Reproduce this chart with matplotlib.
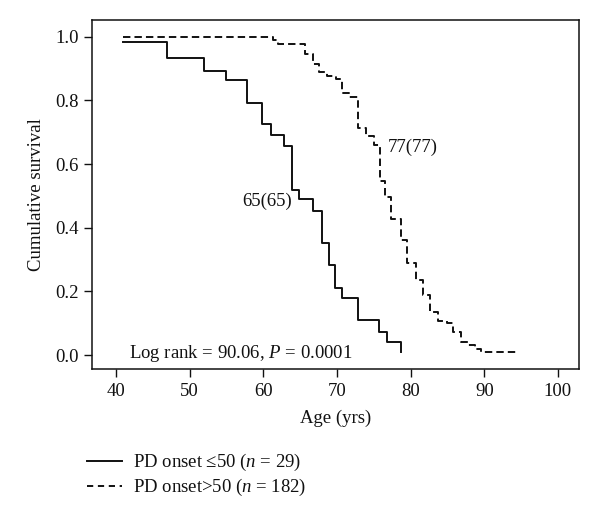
import matplotlib
matplotlib.use("Agg")
import matplotlib.pyplot as plt
from matplotlib.lines import Line2D

plt.rcParams['font.family'] = ['Liberation Serif', 'DejaVu Serif']
plt.rcParams['mathtext.fontset'] = 'custom'
plt.rcParams['mathtext.rm'] = 'Liberation Serif'
plt.rcParams['mathtext.it'] = 'Liberation Serif:italic'

# Onset <= 50 (solid): step ages and survival after each step
early_age = [41.0, 47.0, 51.9, 54.9, 57.8, 59.9, 61.0, 62.8, 63.9, 64.9, 66.7,
             68.0, 68.9, 69.8, 70.7, 72.8, 75.7, 76.8, 78.7]
early_surv = [0.983, 0.932, 0.893, 0.863, 0.791, 0.726, 0.691, 0.657, 0.520, 0.490, 0.452,
              0.351, 0.282, 0.212, 0.180, 0.110, 0.071, 0.040, 0.010]

# Onset > 50 (dashed)
late_age = [41.0, 61.3, 62.0, 65.7, 66.8, 67.6, 68.7, 69.9, 70.7, 71.7, 72.8,
            74.0, 75.1, 75.8, 76.5, 77.4, 78.7, 79.5, 80.8, 81.7, 82.6, 83.7,
            85.0, 85.8, 86.9, 87.8, 88.7, 89.6, 94.3]
late_surv = [1.000, 0.989, 0.977, 0.945, 0.914, 0.888, 0.877, 0.868, 0.823, 0.810, 0.713,
             0.687, 0.660, 0.547, 0.498, 0.427, 0.360, 0.290, 0.236, 0.190, 0.136, 0.108,
             0.100, 0.073, 0.042, 0.031, 0.018, 0.010, 0.010]

x_ticks = [40, 50, 60, 70, 80, 90, 100]
y_ticks = [0.0, 0.2, 0.4, 0.6, 0.8, 1.0]

legend_labels = [r'PD onset ≤50 ($n$ = 29)', r'PD onset>50 ($n$ = 182)']

fig = plt.figure(figsize=(6.0, 5.19), dpi=100)
ax = fig.add_axes([92.3/600, 1-369/519, (579.3-92.3)/600, (369-20)/519])

col = '#111111'
fs = 13.5
ax.step(early_age, early_surv, where='post', color=col, lw=1.4)
ax.step(late_age, late_surv, where='post', color=col, lw=1.4, dashes=(3.8, 2.1))

ax.set_xlim(36.8, 102.9)
ax.set_ylim(-0.044, 1.053)
ax.set_xticks(x_ticks)
ax.set_yticks(y_ticks)
ax.set_yticklabels(['%.1f' % v for v in y_ticks])
ax.tick_params(direction='out', length=6, width=1, labelsize=fs, colors=col, pad=4)
for s in ax.spines.values():
    s.set_linewidth(1.1)
    s.set_color(col)

ax.set_xlabel('Age (yrs)', fontsize=fs, color=col, labelpad=7)
ax.set_ylabel('Cumulative survival', fontsize=fs, color=col, labelpad=7)

ax.text(63.9, 0.482, '65(65)', ha='right', va='center', fontsize=fs, color=col)
ax.text(76.9, 0.652, '77(77)', ha='left', va='center', fontsize=fs, color=col)
ax.text(41.8, 0.006, r'Log rank = 90.06, $P$ = 0.0001', ha='left', va='center',
        fontsize=fs, color=col)

handles = [Line2D([], [], color=col, lw=1.4),
           Line2D([], [], color=col, lw=1.4, dashes=(3.2, 2.4))]
fig.legend(handles, legend_labels, loc='upper left', bbox_to_anchor=(87/600, 1-452/519),
           frameon=False, fontsize=fs, handlelength=1.85, handletextpad=0.6,
           labelspacing=0.22, borderpad=0, borderaxespad=0, labelcolor=col)

fig.savefig('out.png', dpi=100)
